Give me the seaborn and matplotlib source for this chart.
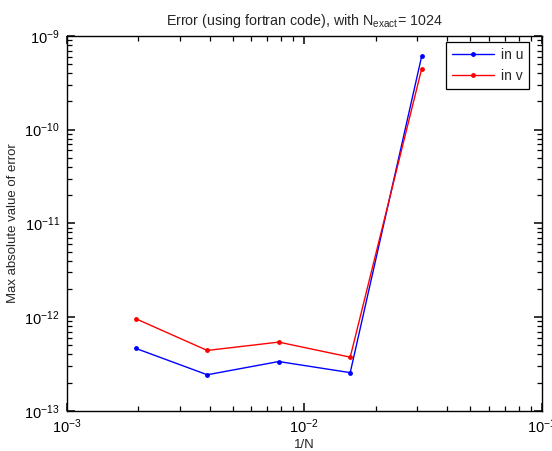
import matplotlib
matplotlib.use("Agg")
import matplotlib.pyplot as plt
import seaborn as sns
import pandas as pd

# grid spacing 1/N for N = 512 ... 32
inv_n = [1/512, 1/256, 1/128, 1/64, 1/32]
err_u = [4.63e-13, 2.42e-13, 3.35e-13, 2.55e-13, 6.1e-10]
err_v = [9.6e-13, 4.4e-13, 5.4e-13, 3.73e-13, 4.48e-10]
series_names = ["in u", "in v"]

df = pd.DataFrame({
    "x": inv_n * 2,
    "err": err_u + err_v,
    "series": [series_names[0]] * len(inv_n) + [series_names[1]] * len(inv_n),
})

sns.set_style("ticks", {"xtick.direction": "in", "ytick.direction": "in"})
plt.rcParams["font.family"] = ["Liberation Sans", "DejaVu Sans"]
plt.rcParams["mathtext.fontset"] = "custom"
plt.rcParams["mathtext.rm"] = "Liberation Sans"
plt.rcParams["mathtext.it"] = "Liberation Sans"
plt.rcParams["axes.axisbelow"] = False

fig = plt.figure(figsize=(5.52, 4.51), dpi=100)
ax = fig.add_axes([0.1208, 0.0893, 0.8605, 0.8309])

sns.lineplot(data=df, x="x", y="err", hue="series", palette=["#0000ff", "#ff0000"],
             marker="o", markersize=3.5, markeredgewidth=0, linewidth=1.0,
             ax=ax, sort=False)

ax.set_xscale("log")
ax.set_yscale("log")
ax.set_xlim(1e-3, 1e-1)
ax.set_ylim(1e-13, 1e-9)
ax.minorticks_on()
ax.set_axisbelow(False)

ax.set_title(r"Error (using fortran code), with N$_{\rm exact}$= 1024", fontsize=10.3, pad=8)
ax.set_xlabel("1/N", fontsize=9.5, labelpad=2)
ax.set_ylabel("Max absolute value of error", fontsize=9.5, labelpad=4)

ax.tick_params(which="both", direction="in", bottom=True, left=True, top=True,
               right=True, labelsize=10.5, color="black", labelcolor="black")
ax.tick_params(which="major", length=6, width=1.1, pad=5)
ax.tick_params(which="minor", length=3.5, width=0.9)
for s in ax.spines.values():
    s.set_color("black")
    s.set_linewidth(1.0)

leg = ax.legend(loc="upper right", bbox_to_anchor=(0.974, 0.984), borderaxespad=0,
                fontsize=10, frameon=True, fancybox=False, edgecolor="black",
                framealpha=1, handlelength=3.0, borderpad=0.45, labelspacing=0.5,
                handletextpad=0.5)
leg.get_frame().set_linewidth(0.9)

fig.savefig("out.png", dpi=100)
